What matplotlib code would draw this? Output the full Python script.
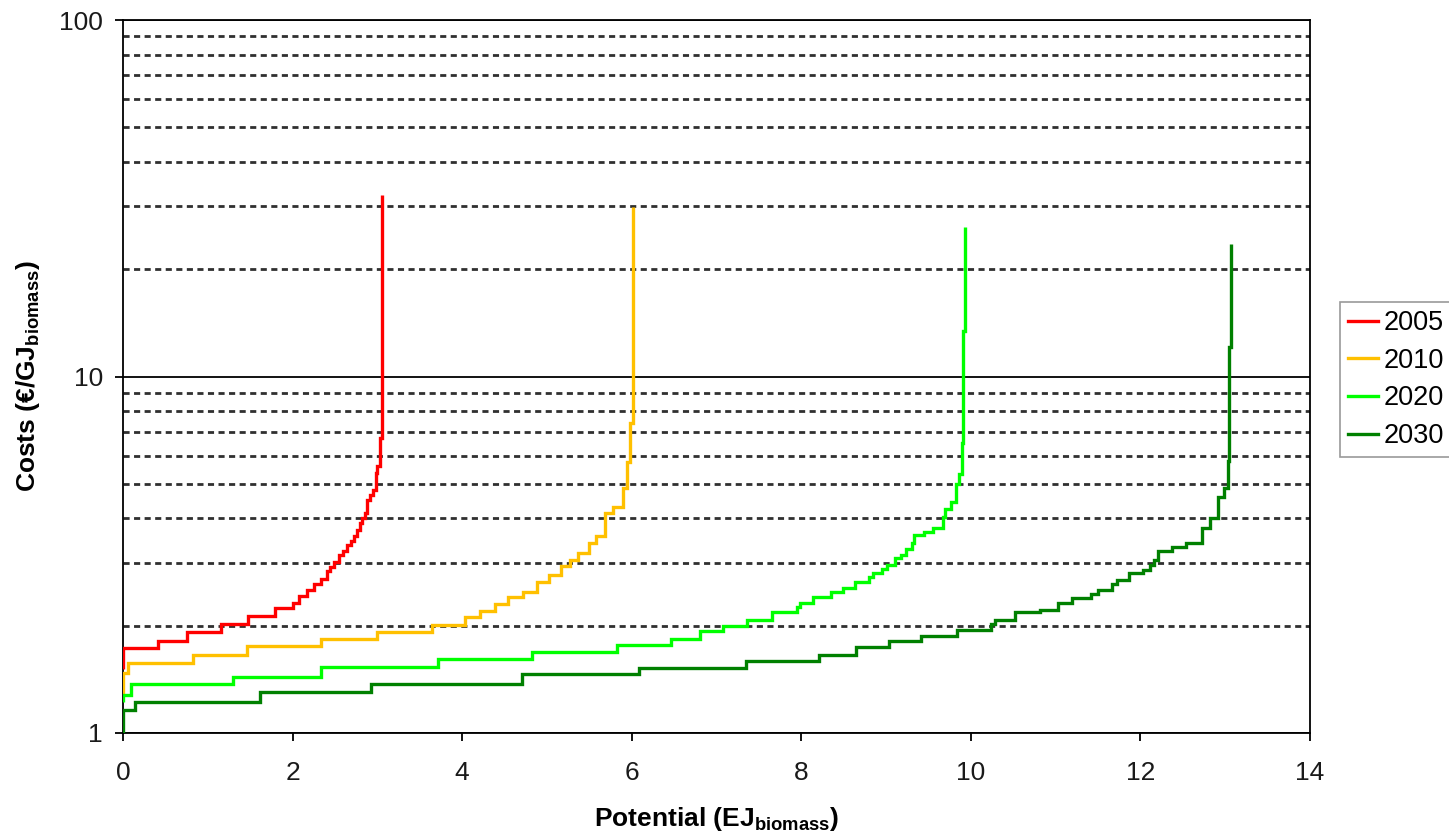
import matplotlib
matplotlib.use("Agg")
import matplotlib.pyplot as plt
from matplotlib.ticker import FixedLocator, NullFormatter, FixedFormatter

plt.rcParams['font.family'] = ['Liberation Sans', 'DejaVu Sans']
plt.rcParams['mathtext.fontset'] = 'custom'
plt.rcParams['mathtext.rm'] = 'Liberation Sans'
plt.rcParams['mathtext.bf'] = 'Liberation Sans:bold'

# ---- data ----
years = ["2005", "2010", "2020", "2030"]
colors = ["#FF0000", "#FFC000", "#00FF00", "#008000"]

edges_2005 = [0, 0, 0.41, 0.75, 1.15, 1.47, 1.79, 2.01, 2.08, 2.17, 2.25, 2.34, 2.41, 2.44, 2.49,
              2.55, 2.60, 2.64, 2.69, 2.73, 2.76, 2.79, 2.82, 2.85, 2.88, 2.91, 2.95, 2.98, 3.00,
              3.03, 3.06, 3.06]
cost_2005 = [1.51, 1.73, 1.81, 1.92, 2.02, 2.13, 2.24, 2.31, 2.43, 2.51, 2.61, 2.71, 2.84, 2.93,
             3.02, 3.15, 3.24, 3.36, 3.46, 3.58, 3.70, 3.88, 4.01, 4.15, 4.51, 4.64, 4.79, 5.35,
             5.61, 6.74, 32.4]

edges_2010 = [0, 0, 0.06, 0.83, 1.46, 2.33, 3.00, 3.64, 4.03, 4.21, 4.39, 4.54, 4.72, 4.88, 5.02,
              5.17, 5.27, 5.37, 5.50, 5.58, 5.68, 5.78, 5.90, 5.94, 5.98, 6.02, 6.02]
cost_2010 = [1.28, 1.47, 1.57, 1.66, 1.75, 1.83, 1.92, 2.01, 2.12, 2.20, 2.30, 2.40, 2.49, 2.65,
             2.77, 2.94, 3.05, 3.19, 3.42, 3.58, 4.15, 4.30, 4.88, 5.74, 7.40, 29.8]

edges_2020 = [0, 0, 0.10, 1.30, 2.33, 3.72, 4.82, 5.83, 6.46, 6.80, 7.08, 7.36, 7.65, 7.95, 7.98,
              8.14, 8.35, 8.49, 8.63, 8.80, 8.85, 8.95, 9.01, 9.11, 9.18, 9.24, 9.30, 9.33, 9.45,
              9.55, 9.67, 9.70, 9.77, 9.83, 9.86, 9.89, 9.91, 9.93, 9.93]
cost_2020 = [1.22, 1.28, 1.37, 1.44, 1.53, 1.61, 1.69, 1.77, 1.84, 1.93, 1.99, 2.08, 2.18, 2.26,
             2.32, 2.40, 2.48, 2.55, 2.65, 2.73, 2.81, 2.89, 2.96, 3.09, 3.16, 3.28, 3.42, 3.59,
             3.67, 3.76, 4.03, 4.25, 4.46, 5.00, 5.32, 6.49, 13.4, 26.2]

edges_2030 = [0, 0, 0.14, 1.61, 2.93, 4.71, 6.08, 7.35, 8.21, 8.64, 9.03, 9.41, 9.84, 10.24, 10.28,
              10.52, 10.81, 11.03, 11.19, 11.42, 11.50, 11.67, 11.72, 11.87, 12.03, 12.11, 12.16,
              12.21, 12.37, 12.54, 12.72, 12.82, 12.92, 12.98, 13.03, 13.05, 13.07, 13.07]
cost_2030 = [1.0, 1.16, 1.22, 1.30, 1.37, 1.46, 1.52, 1.59, 1.66, 1.74, 1.81, 1.87, 1.95, 2.02,
             2.08, 2.18, 2.22, 2.31, 2.39, 2.45, 2.52, 2.61, 2.68, 2.81, 2.87, 2.95, 3.05, 3.24,
             3.32, 3.41, 3.77, 4.01, 4.58, 4.86, 5.81, 12.1, 23.6]

x_ticks = [0, 2, 4, 6, 8, 10, 12, 14]
y_ticks = [1, 10, 100]
y_ticklabels = ["1", "10", "100"]
y_minor = [2, 3, 4, 5, 6, 7, 8, 9, 20, 30, 40, 50, 60, 70, 80, 90]

series = [(edges_2005, cost_2005), (edges_2010, cost_2010),
          (edges_2020, cost_2020), (edges_2030, cost_2030)]

# ---- figure ----
fig = plt.figure(figsize=(14.49, 8.35), dpi=100)
ax = fig.add_axes([0.0849, 0.1222, 0.8192, 0.8538])

ax.set_yscale('log')
ax.set_xlim(0, 14)
ax.set_ylim(1, 100)

ax.yaxis.set_major_locator(FixedLocator(y_ticks))
ax.yaxis.set_major_formatter(FixedFormatter(y_ticklabels))
ax.yaxis.set_minor_locator(FixedLocator(y_minor))
ax.yaxis.set_minor_formatter(NullFormatter())
ax.set_xticks(x_ticks)
ax.set_xticklabels([str(v) for v in x_ticks])

ax.tick_params(axis='both', which='major', direction='out', length=5.5, width=1.3,
               labelsize=19, colors='black', labelcolor='#1a1a1a')
ax.tick_params(axis='y', which='major', pad=9)
ax.tick_params(axis='x', which='major', pad=15)
ax.tick_params(axis='y', which='minor', length=0)

ax.set_axisbelow(True)
ax.grid(True, which='major', axis='y', color='black', linewidth=1.3, linestyle='-')
ax.grid(True, which='minor', axis='y', color='#303030', linewidth=2.0,
        linestyle=(0, (2.2, 1.6)))

for sp in ax.spines.values():
    sp.set_linewidth(1.3)
    sp.set_color('black')

handles = []
for (edges, costs), col, lab in zip(series, colors, years):
    h = ax.stairs(costs, edges, baseline=None, color=col, linewidth=2.4, label=lab,
                  zorder=3)
    handles.append(h)

ax.set_xlabel(r"Potential (EJ$_{\mathbf{biomass}}$)", fontsize=19, fontweight='bold',
              labelpad=14)
ax.set_ylabel(r"Costs (€/GJ$_{\mathbf{biomass}}$)", fontsize=19, fontweight='bold',
              labelpad=12)

leg = fig.legend(handles=handles, labels=years, loc='upper left',
                 bbox_to_anchor=(1340 / 1449, (835 - 302) / 835),
                 bbox_transform=fig.transFigure, fontsize=19.5, frameon=True,
                 fancybox=False, edgecolor='#808080', handlelength=1.1,
                 handletextpad=0.2, labelspacing=0.43, borderpad=0.3,
                 borderaxespad=0)
leg.get_frame().set_linewidth(1.2)

fig.savefig("out.png", dpi=100)
